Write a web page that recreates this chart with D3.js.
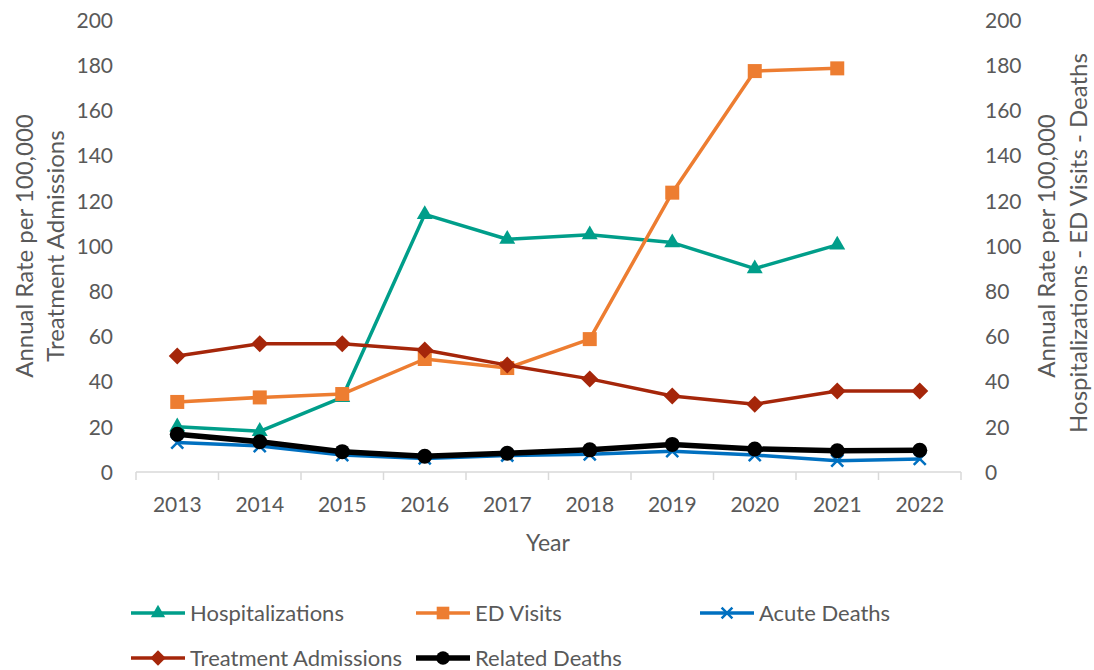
<!DOCTYPE html>
<html><head><meta charset="utf-8">
<script src="https://cdn.jsdelivr.net/npm/d3@7"></script>
<style>
body{margin:0;background:#fff;}
text{font-family:Lato, "Open Sans", sans-serif;fill:#595959;}
</style></head>
<body><svg id="c" width="1094" height="670"></svg>
<script>
const years = ["2013","2014","2015","2016","2017","2018","2019","2020","2021","2022"];
const hospitalizations = [20, 18, 33, 114, 103, 105, 101.5, 90, 100.5, null];
const edVisits = [31, 33, 34.5, 50, 46, 58.8, 123.6, 177.4, 178.6, null];
const treatmentAdmissions = [51.3, 56.8, 56.8, 54, 47.3, 41.2, 33.6, 30, 35.8, 35.8];
const acuteDeaths = [13, 11.5, 7.5, 6, 7.3, 7.8, 9.2, 7.5, 5, 5.8];
const relatedDeaths = [16.7, 13.4, 9, 7, 8.3, 9.8, 12.2, 10.2, 9.4, 9.6];
const yTicks = [0,20,40,60,80,100,120,140,160,180,200];

const series = [
  {name:"Hospitalizations", values:hospitalizations, color:"#009E8A", marker:"triangle", width:3.5},
  {name:"ED Visits", values:edVisits, color:"#ED7D31", marker:"square", width:3.5},
  {name:"Treatment Admissions", values:treatmentAdmissions, color:"#A5260A", marker:"diamond", width:3.5},
  {name:"Acute Deaths", values:acuteDeaths, color:"#0070C0", marker:"x", width:3.5},
  {name:"Related Deaths", values:relatedDeaths, color:"#000000", marker:"circle", width:5.5}
];

const svg = d3.select("#c");
const x = d3.scaleBand().domain(years).range([136, 961]);
const y = d3.scaleLinear().domain([0,200]).range([472, 20]);
const cx = d => x(d) + x.bandwidth()/2;

const gl = svg.append("g").attr("transform","translate(113,0)")
  .call(d3.axisLeft(y).tickValues(yTicks).tickSize(0).tickPadding(0));
gl.select(".domain").remove();
gl.selectAll("text").attr("font-size",21).attr("fill","#595959").attr("dy","0.35em");

const gr = svg.append("g").attr("transform","translate(985,0)")
  .call(d3.axisRight(y).tickValues(yTicks).tickSize(0).tickPadding(0));
gr.select(".domain").remove();
gr.selectAll("text").attr("font-size",21).attr("fill","#595959").attr("dy","0.35em");

const gx = svg.append("g").attr("transform","translate(0,472)");
gx.append("line").attr("x1",136).attr("x2",961).attr("y1",0).attr("y2",0)
  .attr("stroke","#D9D9D9").attr("stroke-width",1.5);
const bounds = years.map(d=>x(d)).concat([x(years[years.length-1])+x.bandwidth()]);
gx.selectAll("line.tk").data(bounds).join("line").attr("class","tk")
  .attr("x1",d=>d).attr("x2",d=>d).attr("y1",0).attr("y2",8)
  .attr("stroke","#D9D9D9").attr("stroke-width",1.5);
gx.selectAll("text.yl").data(years).join("text").attr("class","yl")
  .attr("x",d=>cx(d)).attr("y",40).attr("text-anchor","middle").attr("font-size",21).text(d=>d);

svg.append("text").attr("transform","translate(33,246) rotate(-90)").attr("text-anchor","middle")
  .attr("font-size",24).text("Annual Rate per 100,000");
svg.append("text").attr("transform","translate(64,246) rotate(-90)").attr("text-anchor","middle")
  .attr("font-size",24).text("Treatment Admissions");
svg.append("text").attr("transform","translate(1055,246) rotate(-90)").attr("text-anchor","middle")
  .attr("font-size",24).text("Annual Rate per 100,000");
svg.append("text").attr("transform","translate(1087,243) rotate(-90)").attr("text-anchor","middle")
  .attr("font-size",24).text("Hospitalizations - ED Visits - Deaths");
svg.append("text").attr("x",548).attr("y",551).attr("text-anchor","middle")
  .attr("font-size",23).text("Year");

function drawMarker(g, type, color, px, py, scale){
  const s = scale||1;
  if(type==="triangle"){
    g.append("path").attr("d",d3.symbol(d3.symbolTriangle, 110*s*s)()).attr("transform",`translate(${px},${py})`).attr("fill",color);
  } else if(type==="square"){
    g.append("rect").attr("x",px-7*s).attr("y",py-7*s).attr("width",14*s).attr("height",14*s).attr("fill",color);
  } else if(type==="diamond"){
    const r=8.5*s;
    g.append("path").attr("d",`M${px},${py-r}L${px+r},${py}L${px},${py+r}L${px-r},${py}Z`).attr("fill",color);
  } else if(type==="circle"){
    g.append("circle").attr("cx",px).attr("cy",py).attr("r",7.5*s).attr("fill",color);
  } else if(type==="x"){
    const r=6*s;
    g.append("path").attr("d",`M${px-r},${py-r}L${px+r},${py+r}M${px-r},${py+r}L${px+r},${py-r}`)
      .attr("stroke",color).attr("stroke-width",2.5).attr("fill","none");
  }
}

series.forEach(s=>{
  const pts = years.map((yr,i)=>({yr, v:s.values[i]})).filter(p=>p.v!==null);
  const line = d3.line().x(p=>cx(p.yr)).y(p=>y(p.v));
  const g = svg.append("g");
  g.append("path").datum(pts).attr("d",line).attr("fill","none").attr("stroke",s.color)
    .attr("stroke-width",s.width).attr("stroke-linejoin","round");
  pts.forEach(p=>drawMarker(g, s.marker, s.color, cx(p.yr), y(p.v)));
});

const legendItems = [
  {s:series[0], lx:131, ly:613},
  {s:series[1], lx:416, ly:613},
  {s:series[3], lx:700, ly:613},
  {s:series[2], lx:131, ly:658},
  {s:series[4], lx:416, ly:658}
];
legendItems.forEach(it=>{
  const g = svg.append("g");
  g.append("line").attr("x1",it.lx).attr("x2",it.lx+54).attr("y1",it.ly).attr("y2",it.ly)
    .attr("stroke",it.s.color).attr("stroke-width",it.s.marker==="circle"?5.5:3.5);
  drawMarker(g, it.s.marker, it.s.color, it.lx+27, it.ly, 0.9);
  g.append("text").attr("x",it.lx+59).attr("y",it.ly).attr("dy","0.35em").attr("font-size",22).text(it.s.name);
});
</script></body></html>
